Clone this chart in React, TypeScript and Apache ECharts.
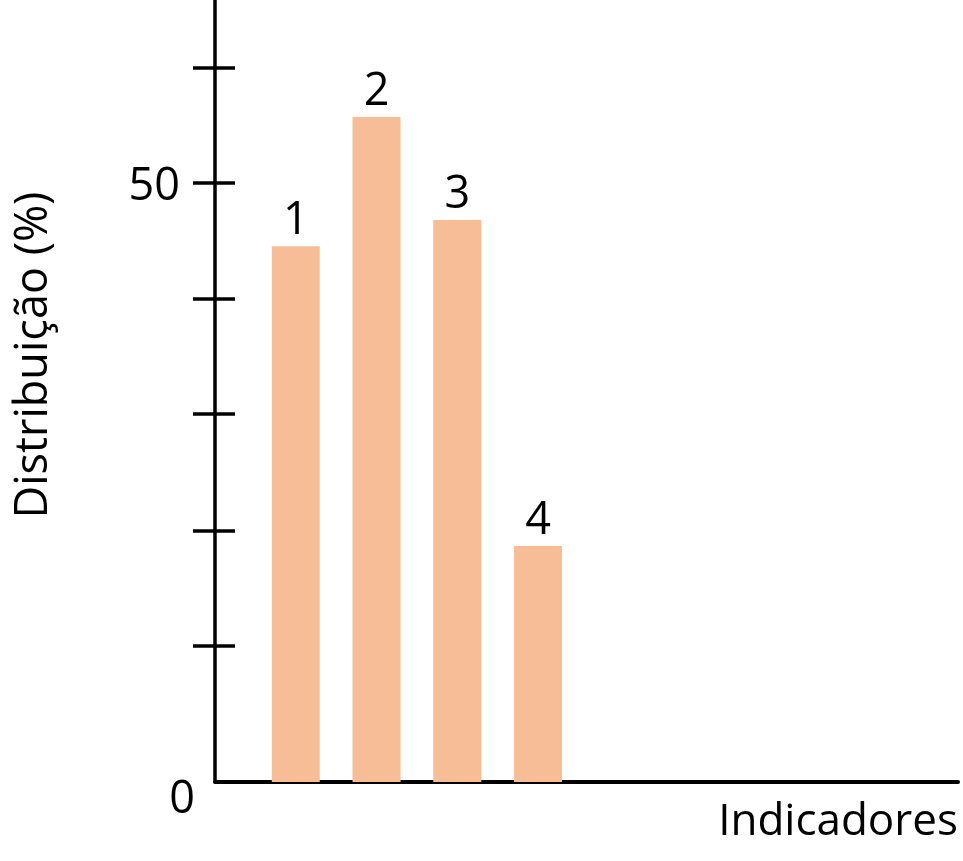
import React, { useEffect, useRef } from "react";
import * as echarts from "echarts";

const categories = ["1", "2", "3", "4"];
const positions = [1, 2, 3, 4];
const values = [44.7, 55.5, 46.9, 19.7];
const tickValues = [11.4, 21.0, 30.7, 40.3, 50, 59.6];
const upperLabels = [50];
const lowerLabels = [0];

const FONT = "'Open Sans', 'Noto Sans', sans-serif";

export default function App() {
  const ref = useRef<HTMLDivElement>(null);
  useEffect(() => {
    if (!ref.current) return;
    const chart = echarts.init(ref.current, undefined, { renderer: "svg" });
    const yMax = 65.26;
    const common = {
      type: "value" as const,
      min: 0,
      max: yMax,
      position: "left" as const,
      splitLine: { show: false },
    };
    chart.setOption({
      animation: false,
      grid: {
        left: 215,
        right: 5,
        top: 0,
        bottom: 79,
        containLabel: false,
        outerBoundsMode: "none",
      },
      xAxis: {
        type: "value",
        min: 0,
        max: 9.2,
        splitLine: { show: false },
        axisTick: { show: false },
        axisLabel: { show: false },
        axisLine: { show: true, lineStyle: { color: "#000", width: 4 } },
        name: "Indicadores",
        nameLocation: "end",
        nameGap: 0,
        nameTextStyle: {
          fontFamily: FONT,
          fontSize: 44,
          color: "#000",
          align: "right",
          verticalAlign: "top",
          padding: [14, 0, 0, 0],
        },
      },
      yAxis: [
        {
          ...common,
          axisLine: { show: true, lineStyle: { color: "#000", width: 3.5 } },
          axisTick: {
            show: true,
            customValues: tickValues,
            length: 22,
            lineStyle: { color: "#000", width: 3.5 },
          },
          axisLabel: {
            show: true,
            customValues: upperLabels,
            margin: 35,
            fontFamily: FONT,
            fontSize: 45,
            color: "#000",
          },
          name: "Distribuição (%)",
          nameLocation: "middle",
          nameGap: 162,
          nameTextStyle: {
            fontFamily: FONT,
            fontSize: 45,
            lineHeight: 48,
            color: "#000",
            padding: [0, 0, 0, 72],
          },
        },
        {
          ...common,
          axisLine: { show: false },
          axisTick: {
            show: true,
            inside: true,
            customValues: tickValues,
            length: 20,
            lineStyle: { color: "#000", width: 3.5 },
          },
          axisLabel: {
            show: true,
            customValues: lowerLabels,
            margin: 20,
            fontFamily: FONT,
            fontSize: 45,
            color: "#000",
            formatter: (v: number) => "{low|" + v + "}",
            rich: {
              low: {
                fontFamily: FONT,
                fontSize: 45,
                color: "#000",
                padding: [26, 0, 0, 0],
              },
            },
          },
        },
      ],
      series: [
        {
          type: "bar",
          data: positions.map((p, i) => [p, values[i]]),
          barWidth: 48,
          itemStyle: { color: "#F7BD96" },
          label: {
            show: true,
            position: "top",
            distance: 7,
            fontFamily: FONT,
            fontSize: 45,
            color: "#000",
            formatter: (p: any) => categories[p.dataIndex],
          },
        },
      ],
    });
    return () => chart.dispose();
  }, []);
  return (
    <div
      ref={ref}
      style={{ position: "fixed", left: 0, top: 0, width: 963, height: 861 }}
    />
  );
}
